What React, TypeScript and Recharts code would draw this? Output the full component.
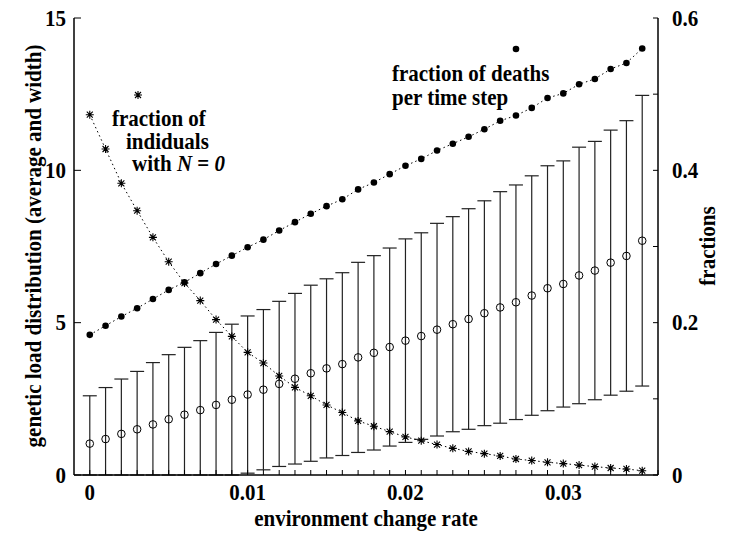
import { ComposedChart, Line, XAxis, YAxis, ErrorBar } from "recharts";

// environment change rate (x)
const RATES = [
  0, 0.001, 0.002, 0.003, 0.004, 0.005, 0.006, 0.007, 0.008, 0.009,
  0.01, 0.011, 0.012, 0.013, 0.014, 0.015, 0.016, 0.017, 0.018, 0.019,
  0.02, 0.021, 0.022, 0.023, 0.024, 0.025, 0.026, 0.027, 0.028, 0.029,
  0.03, 0.031, 0.032, 0.033, 0.034, 0.035,
];

// fraction of deaths per time step (right axis)
const DEATHS = [
  0.184, 0.196, 0.208, 0.219, 0.231, 0.243, 0.253, 0.265, 0.277, 0.288,
  0.299, 0.309, 0.321, 0.332, 0.343, 0.353, 0.362, 0.375, 0.384, 0.395,
  0.406, 0.415, 0.426, 0.435, 0.444, 0.454, 0.465, 0.472, 0.482, 0.495,
  0.501, 0.513, 0.52, 0.533, 0.541, 0.56,
];

// fraction of individuals with N = 0 (right axis)
const ZERO_N = [
  0.473, 0.428, 0.383, 0.347, 0.312, 0.28, 0.252, 0.229, 0.204, 0.182,
  0.161, 0.147, 0.13, 0.115, 0.104, 0.092, 0.082, 0.071, 0.064, 0.057,
  0.05, 0.045, 0.04, 0.035, 0.031, 0.028, 0.025, 0.021, 0.019, 0.0167,
  0.015, 0.013, 0.011, 0.0092, 0.0079, 0.0056,
];

// genetic load: average and width (left axis)
const LOAD_MEAN = [
  1.03, 1.18, 1.35, 1.5, 1.66, 1.83, 1.98, 2.13, 2.3, 2.47,
  2.64, 2.8, 2.99, 3.16, 3.34, 3.5, 3.64, 3.86, 4.01, 4.2,
  4.41, 4.56, 4.77, 4.95, 5.12, 5.31, 5.5, 5.67, 5.89, 6.13,
  6.27, 6.55, 6.71, 6.97, 7.19, 7.69,
];
const LOAD_WIDTH = [
  1.57, 1.69, 1.8, 1.9, 2.03, 2.12, 2.21, 2.28, 2.38, 2.48,
  2.58, 2.63, 2.71, 2.8, 2.89, 2.94, 3.0, 3.12, 3.19, 3.25,
  3.34, 3.39, 3.49, 3.53, 3.62, 3.69, 3.8, 3.85, 3.93, 4.02,
  4.04, 4.21, 4.24, 4.35, 4.44, 4.77,
];

const X_TICKS = Array.from({ length: 37 }, (_, i) => i / 1000);
const X_LABELS = [0, 0.01, 0.02, 0.03];
const LEFT_TICKS = [0, 5, 10, 15];
const RIGHT_TICKS = [0, 0.1, 0.2, 0.3, 0.4, 0.5, 0.6];
const RIGHT_LABELS = [0, 0.2, 0.4, 0.6];

const FONT = "'Liberation Serif', 'Times New Roman', Times, serif";
const STRETCH = "scale(1,1.08)"; // the original lettering is a bit taller than Liberation
const axisStroke = { stroke: "#000", strokeWidth: 1.5 };

// errors clipped at the bottom of the axis, like the original plot
const data = RATES.map((x, i) => ({
  x,
  deaths: DEATHS[i],
  zero: ZERO_N[i],
  mean: LOAD_MEAN[i],
  err: [Math.min(LOAD_WIDTH[i], LOAD_MEAN[i]), LOAD_WIDTH[i]],
}));

const near = (list: number[], v: number) => list.some((t) => Math.abs(t - v) < 1e-9);

function Txt({ x, y, anchor = "start", rotate = false, size = 21, children }: any) {
  const tf = `translate(${x},${y})${rotate ? " rotate(-90)" : ""} ${STRETCH}`;
  return (
    <text
      transform={tf}
      textAnchor={anchor}
      fontFamily={FONT}
      fontWeight="bold"
      fontSize={size}
      fill="#000"
    >
      {children}
    </text>
  );
}

function XTick(p: any) {
  const v = p.payload.value;
  if (!near(X_LABELS, v)) return <g />;
  return <Txt x={p.x} y={p.y + 15} anchor="middle">{v === 0 ? "0" : v.toFixed(2)}</Txt>;
}

function LeftTick(p: any) {
  return <Txt x={p.x} y={p.y + 7.5} anchor="end">{String(p.payload.value)}</Txt>;
}

function RightTick(p: any) {
  const v = p.payload.value;
  if (!near(RIGHT_LABELS, v)) return <g />;
  return <Txt x={p.x} y={p.y + 7.5} anchor="start">{v === 0 ? "0" : v.toFixed(1)}</Txt>;
}

function starPath(cx: number, cy: number) {
  const r = 4;
  const d = 3;
  return `M${cx - r},${cy}H${cx + r}M${cx},${cy - r}V${cy + r}M${cx - d},${cy - d}L${cx + d},${cy + d}M${cx - d},${cy + d}L${cx + d},${cy - d}`;
}

function StarDot(p: any) {
  if (p.cx == null || p.cy == null) return <g key={p.index} />;
  return <path key={p.index} d={starPath(p.cx, p.cy)} stroke="#000" strokeWidth={1.1} fill="none" />;
}

function FilledDot(p: any) {
  if (p.cx == null || p.cy == null) return <g key={p.index} />;
  return <circle key={p.index} cx={p.cx} cy={p.cy} r={3.3} fill="#000" />;
}

function OpenDot(p: any) {
  if (p.cx == null || p.cy == null) return <g key={p.index} />;
  return <circle key={p.index} cx={p.cx} cy={p.cy} r={3.8} fill="none" stroke="#000" strokeWidth={1} />;
}

export default function App() {
  return (
    <div style={{ position: "absolute", left: 0, top: 0, width: 735, height: 539, background: "#fff" }}>
      <ComposedChart
        width={735}
        height={539}
        data={data}
        margin={{ top: 18, right: 0, bottom: 0, left: 0 }}
      >
        <XAxis
          dataKey="x"
          type="number"
          domain={[-0.001, 0.036]}
          ticks={X_TICKS}
          height={64}
          tickSize={-5}
          tickMargin={15}
          interval={0}
          axisLine={axisStroke}
          tickLine={{ stroke: "#000", strokeWidth: 1 }}
          tick={XTick}
        />
        <XAxis
          xAxisId="top"
          orientation="top"
          type="number"
          domain={[-0.001, 0.036]}
          ticks={X_TICKS}
          height={0}
          tickSize={-4}
          interval={0}
          axisLine={axisStroke}
          tickLine={{ stroke: "#000", strokeWidth: 1 }}
          tickFormatter={() => ""}
        />
        <YAxis
          yAxisId="left"
          type="number"
          domain={[0, 15]}
          ticks={LEFT_TICKS}
          width={74}
          tickSize={-7}
          tickMargin={15}
          interval={0}
          axisLine={axisStroke}
          tickLine={{ stroke: "#000", strokeWidth: 1 }}
          tick={LeftTick}
        />
        <YAxis
          yAxisId="right"
          orientation="right"
          type="number"
          domain={[0, 0.6]}
          ticks={RIGHT_TICKS}
          width={77}
          tickSize={-5}
          tickMargin={19}
          interval={0}
          axisLine={axisStroke}
          tickLine={{ stroke: "#000", strokeWidth: 1 }}
          tick={RightTick}
        />

        <Line
          yAxisId="left"
          dataKey="mean"
          stroke="none"
          dot={OpenDot}
          activeDot={false}
          isAnimationActive={false}
        >
          <ErrorBar
            dataKey="err"
            direction="y"
            width={7}
            stroke="#222"
            strokeWidth={1.2}
            isAnimationActive={false}
          />
        </Line>
        <Line
          yAxisId="right"
          dataKey="zero"
          type="linear"
          stroke="#000"
          strokeWidth={1}
          strokeDasharray="1.5 3"
          dot={StarDot}
          activeDot={false}
          isAnimationActive={false}
        />
        <Line
          yAxisId="right"
          dataKey="deaths"
          type="linear"
          stroke="#000"
          strokeWidth={1}
          strokeDasharray="1.5 3"
          dot={FilledDot}
          activeDot={false}
          isAnimationActive={false}
        />
      </ComposedChart>

      <svg
        width={735}
        height={539}
        style={{ position: "absolute", left: 0, top: 0, pointerEvents: "none" }}
      >
        <Txt x={366} y={526} anchor="middle">environment change rate</Txt>
        <Txt x={41} y={246} anchor="middle" rotate>
          genetic load distribution (average and width)
        </Txt>
        <Txt x={715} y={246} anchor="middle" rotate>fractions</Txt>

        <path d={starPath(138, 95)} stroke="#000" strokeWidth={1.1} fill="none" />
        <Txt x={112} y={126}>fraction of</Txt>
        <Txt x={126} y={148.5}>indiduals</Txt>
        <Txt x={132} y={171}>
          with <tspan fontStyle="italic">N</tspan> = <tspan fontStyle="italic">0</tspan>
        </Txt>

        <circle cx={516} cy={49} r={3.3} fill="#000" />
        <Txt x={392} y={81}>fraction of deaths</Txt>
        <Txt x={392} y={105}>per time step</Txt>
      </svg>
    </div>
  );
}
